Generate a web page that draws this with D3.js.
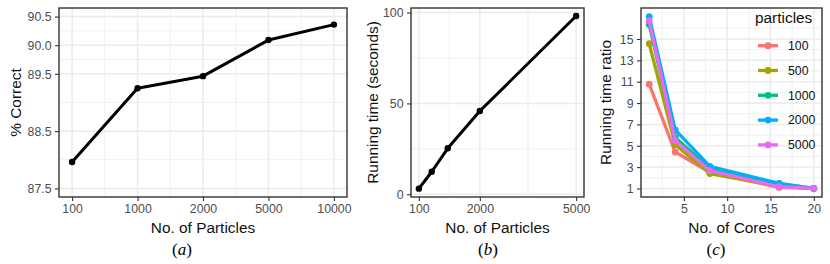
<!DOCTYPE html>
<html>
<head>
<meta charset="utf-8">
<script src="https://cdn.jsdelivr.net/npm/d3@7"></script>
<style>
  body { margin: 0; background: #fff; }
  svg { display: block; }
  .tick-lbl { font-family: 'Liberation Sans', Arial, sans-serif; font-size: 12.3px; fill: #4d4d4d; }
  .ax-title { font-family: 'Liberation Sans', Arial, sans-serif; font-size: 15.4px; fill: #111; }
  .caption { font-family: 'Liberation Serif', 'DejaVu Serif', serif; font-size: 17px; fill: #000; }
</style>
</head>
<body>
<div id="chart"></div>
<script>
// (a) accuracy vs particles
const accParticles = ['100', '1000', '2000', '5000', '10000'];
const accCorrect = [87.96, 89.25, 89.46, 90.09, 90.36];
const accYTicks = [87.5, 88.5, 89.5, 90.0, 90.5];

// (b) running time vs particles
const timeParticles = [100, 500, 1000, 2000, 5000];
const timeSeconds = [3.1, 12.4, 25.3, 45.8, 98.1];
const timeXTicks = [100, 2000, 5000];
const timeYTicks = [0, 50, 100];

// (c) running time ratio vs cores
const cores = [1, 4, 8, 16, 20];
const particleLevels = ['100', '500', '1000', '2000', '5000'];
const ratio100 = [10.77, 4.41, 2.5, 1.1, 1];
const ratio500 = [14.55, 5.1, 2.4, 1.2, 1];
const ratio1000 = [16.35, 5.77, 2.85, 1.45, 1];
const ratio2000 = [17.1, 6.49, 3.07, 1.47, 1];
const ratio5000 = [16.7, 5.49, 2.67, 1.16, 1];
const coreXTicks = [5, 10, 15, 20];
const ratioYTicks = [1, 3, 5, 7, 9, 11, 13, 15];
const levelColors = ['#F8766D', '#A3A500', '#00BF7D', '#00B0F6', '#E76BF3'];

const W = 830, H = 264;
const panelTop = 8, panelBottom = 197;
const tickLen = 4, tickGap = 3.5;

const svg = d3.select('#chart').append('svg')
  .attr('width', W).attr('height', H);

// midpoints between major breaks, used for the minor grid
function minors(majors, domain) {
  const out = [];
  const step0 = majors[1] - majors[0];
  const stepN = majors[majors.length - 1] - majors[majors.length - 2];
  const ext = [majors[0] - step0, ...majors, majors[majors.length - 1] + stepN];
  for (let i = 0; i < ext.length - 1; i++) {
    const m = (ext[i] + ext[i + 1]) / 2;
    if (m > domain[0] && m < domain[1]) out.push(m);
  }
  return out;
}

function drawPanel(o) {
  const g = svg.append('g');
  const { x, y } = o;
  const [x0, x1] = x.range();

  // grid
  g.selectAll('line.ymin').data(minors(o.yTicks, y.domain())).join('line')
    .attr('x1', x0).attr('x2', x1)
    .attr('y1', d => y(d)).attr('y2', d => y(d))
    .attr('stroke', '#ebebeb').attr('stroke-width', 0.75);
  g.selectAll('line.xmin').data(minors(o.xTicks, x.domain())).join('line')
    .attr('y1', panelTop).attr('y2', panelBottom)
    .attr('x1', d => x(d)).attr('x2', d => x(d))
    .attr('stroke', '#ebebeb').attr('stroke-width', 0.75);
  g.selectAll('line.ymaj').data(o.yTicks).join('line')
    .attr('x1', x0).attr('x2', x1)
    .attr('y1', d => y(d)).attr('y2', d => y(d))
    .attr('stroke', '#ebebeb').attr('stroke-width', 1.5);
  g.selectAll('line.xmaj').data(o.xTicks).join('line')
    .attr('y1', panelTop).attr('y2', panelBottom)
    .attr('x1', d => x(d)).attr('x2', d => x(d))
    .attr('stroke', '#ebebeb').attr('stroke-width', 1.5);

  // axes
  const yAxis = g.append('g').attr('transform', `translate(${x0},0)`)
    .call(d3.axisLeft(y).tickValues(o.yTicks).tickSize(tickLen).tickPadding(tickGap)
      .tickFormat(o.yFormat || (d => d)));
  const xAxis = g.append('g').attr('transform', `translate(0,${panelBottom})`)
    .call(d3.axisBottom(x).tickValues(o.xTicks).tickSize(tickLen).tickPadding(tickGap)
      .tickFormat(o.xFormat || (d => d)));
  [xAxis, yAxis].forEach(a => {
    a.select('.domain').remove();
    a.selectAll('line').attr('stroke', '#333333').attr('stroke-width', 1.1);
    a.selectAll('text').attr('class', 'tick-lbl').attr('fill', null);
    a.attr('font-family', null).attr('font-size', null);
  });
  yAxis.selectAll('text').attr('dy', '0.35em');
  xAxis.selectAll('text').attr('dy', '0.71em');

  g.append('text').attr('class', 'ax-title')
    .attr('x', (x0 + x1) / 2).attr('y', 233)
    .attr('text-anchor', 'middle').text(o.xTitle);
  g.append('text').attr('class', 'ax-title')
    .attr('transform', `translate(${o.yTitleX},${(panelTop + panelBottom) / 2}) rotate(-90)`)
    .attr('text-anchor', 'middle').text(o.yTitle);

  const cap = g.append('text').attr('class', 'caption')
    .attr('x', o.capX).attr('y', 255).attr('text-anchor', 'middle');
  cap.append('tspan').text('(');
  cap.append('tspan').attr('font-style', 'italic').text(o.cap);
  cap.append('tspan').text(')');

  g.plot = g.append('g');
  g.border = () => g.append('rect')
    .attr('x', x0).attr('y', panelTop).attr('width', x1 - x0).attr('height', panelBottom - panelTop)
    .attr('fill', 'none').attr('stroke', '#333333').attr('stroke-width', 1.4);
  return g;
}

function drawSeries(g, xs, ys, x, y, color, w, r) {
  const pts = xs.map((d, i) => [x(d), y(ys[i])]);
  g.append('path').attr('d', d3.line()(pts))
    .attr('fill', 'none').attr('stroke', color).attr('stroke-width', w)
    .attr('stroke-linejoin', 'round');
  g.selectAll(null).data(pts).join('circle')
    .attr('cx', d => d[0]).attr('cy', d => d[1]).attr('r', r).attr('fill', color);
}

// ---- panel (a)
const accPos = accParticles.map((d, i) => i + 1);
const xa = d3.scaleLinear().domain([0.8, 5.2]).range([59, 347]);
const ya = d3.scaleLinear().domain([87.35, 90.65]).range([panelBottom, panelTop]);
const pa = drawPanel({
  x: xa, y: ya, xTicks: accPos, yTicks: accYTicks,
  xFormat: d => accParticles[d - 1], yFormat: d3.format('.1f'),
  xTitle: 'No. of Particles', yTitle: '% Correct', yTitleX: 20.5,
  cap: 'a', capX: 182
});
drawSeries(pa.plot, accPos, accCorrect, xa, ya, '#000', 3, 3.2);
pa.border();

// ---- panel (b)
const xb = d3.scaleLinear().domain([-145, 5245]).range([411, 584]);
const yb = d3.scaleLinear().domain([-1.5, 102.5]).range([panelBottom, panelTop]);
const pb = drawPanel({
  x: xb, y: yb, xTicks: timeXTicks, yTicks: timeYTicks,
  xTitle: 'No. of Particles', yTitle: 'Running time (seconds)', yTitleX: 378,
  cap: 'b', capX: 488
});
drawSeries(pb.plot, timeParticles, timeSeconds, xb, yb, '#000', 3, 3.2);
pb.border();

// ---- panel (c)
const ratios = [ratio100, ratio500, ratio1000, ratio2000, ratio5000];
const xc = d3.scaleLinear().domain([0.05, 20.95]).range([641, 822]);
const yc = d3.scaleLinear().domain([0.2, 17.9]).range([panelBottom, panelTop]);
const color = d3.scaleOrdinal().domain(particleLevels).range(levelColors);
const pc = drawPanel({
  x: xc, y: yc, xTicks: coreXTicks, yTicks: ratioYTicks,
  xTitle: 'No. of Cores', yTitle: 'Running time ratio', yTitleX: 611,
  cap: 'c', capX: 716
});
particleLevels.forEach((lvl, i) => {
  drawSeries(pc.plot, cores, ratios[i], xc, yc, color(lvl), 3.3, 3.4);
});

// legend (inside panel, transparent background)
const leg = pc.append('g');
leg.append('text').attr('class', 'ax-title')
  .attr('x', 755).attr('y', 23).text('particles');
const keys = leg.selectAll('g.key').data(particleLevels).join('g')
  .attr('transform', (d, i) => `translate(0,${45.7 + i * 24.8})`);
keys.append('line').attr('x1', 758).attr('x2', 778)
  .attr('stroke', d => color(d)).attr('stroke-width', 3.3);
keys.append('circle').attr('cx', 768).attr('r', 3.4).attr('fill', d => color(d));
keys.append('text').attr('class', 'ax-title').style('font-size', '12.3px')
  .attr('x', 788).attr('dy', '0.35em').text(d => d);
pc.border();
</script>
</body>
</html>
